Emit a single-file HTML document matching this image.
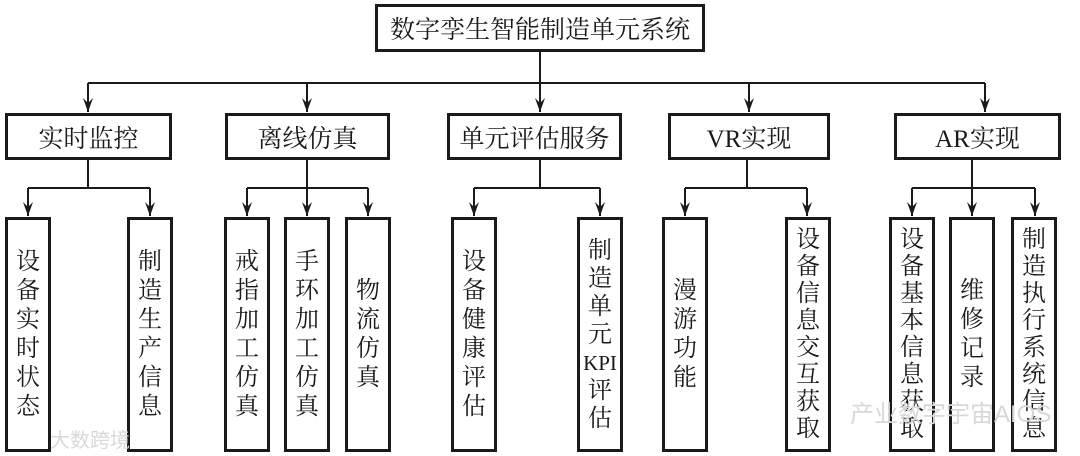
<!DOCTYPE html>
<html><head><meta charset="utf-8"><style>
body{margin:0;width:1080px;height:456px;background:#fff;position:relative;overflow:hidden;font-family:"Liberation Serif","Noto Serif CJK SC",serif;color:#1a1a1a}
.b{position:absolute;border:3px solid #1a1a1a;box-sizing:border-box;display:flex;align-items:center;justify-content:center;background:#fff}
.h{font-size:25px}
.v{flex-direction:column;font-size:24px;line-height:29px;text-align:center}
.v span{display:block}
svg{position:absolute;left:0;top:0}
.wm{position:absolute;color:#d8d8d8;font-family:"Liberation Sans","Noto Sans CJK SC",sans-serif;font-size:24px}
</style></head><body>
<svg width="1080" height="456" stroke="#1a1a1a" stroke-width="2" fill="#1a1a1a">
<defs><marker id="a" markerWidth="14" markerHeight="10" refX="14" refY="5" orient="auto" markerUnits="userSpaceOnUse"><path d="M0,0 L14,5 L0,10 L5,5 Z" stroke="none"/></marker></defs>
<line x1="540" y1="52" x2="540" y2="83"/>
<line x1="88" y1="83" x2="985" y2="83"/>
<g fill="none" marker-end="url(#a)">
<line x1="88" y1="83" x2="88" y2="112"/><line x1="307" y1="83" x2="307" y2="112"/><line x1="540" y1="83" x2="540" y2="112"/><line x1="749" y1="83" x2="749" y2="112"/><line x1="985" y1="83" x2="985" y2="112"/>
</g>
<line x1="88" y1="158" x2="88" y2="188"/><line x1="28" y1="188" x2="150" y2="188"/>
<line x1="307" y1="158" x2="307" y2="188"/><line x1="247" y1="188" x2="368" y2="188"/>
<line x1="540" y1="158" x2="540" y2="188"/><line x1="474" y1="188" x2="600" y2="188"/>
<line x1="747" y1="158" x2="747" y2="188"/><line x1="685" y1="188" x2="807" y2="188"/>
<line x1="972" y1="158" x2="972" y2="188"/><line x1="912" y1="188" x2="1035" y2="188"/>
<g fill="none" marker-end="url(#a)">
<line x1="28" y1="188" x2="28" y2="216"/><line x1="150" y1="188" x2="150" y2="216"/>
<line x1="247" y1="188" x2="247" y2="216"/><line x1="307" y1="188" x2="307" y2="216"/><line x1="368" y1="188" x2="368" y2="216"/>
<line x1="474" y1="188" x2="474" y2="216"/><line x1="600" y1="188" x2="600" y2="216"/>
<line x1="685" y1="188" x2="685" y2="216"/><line x1="807" y1="188" x2="807" y2="216"/>
<line x1="912" y1="188" x2="912" y2="216"/><line x1="972" y1="188" x2="972" y2="216"/><line x1="1035" y1="188" x2="1035" y2="216"/>
</g>
</svg>
<div class="b h" style="left:375px;top:4px;width:330px;height:48px;font-size:25px">数字孪生智能制造单元系统</div>
<div class="b h" style="left:5px;top:113px;width:167px;height:47px">实时监控</div>
<div class="b h" style="left:225px;top:113px;width:165px;height:47px">离线仿真</div>
<div class="b h" style="left:447px;top:113px;width:175px;height:47px">单元评估服务</div>
<div class="b h" style="left:668px;top:113px;width:162px;height:47px">VR实现</div>
<div class="b h" style="left:894px;top:113px;width:167px;height:47px">AR实现</div>

<div class="b v" style="left:5px;top:217px;width:46px;height:235px"><span>设</span><span>备</span><span>实</span><span>时</span><span>状</span><span>态</span></div>
<div class="b v" style="left:127px;top:217px;width:46px;height:235px"><span>制</span><span>造</span><span>生</span><span>产</span><span>信</span><span>息</span></div>
<div class="b v" style="left:224px;top:217px;width:46px;height:235px"><span>戒</span><span>指</span><span>加</span><span>工</span><span>仿</span><span>真</span></div>
<div class="b v" style="left:284px;top:217px;width:46px;height:235px"><span>手</span><span>环</span><span>加</span><span>工</span><span>仿</span><span>真</span></div>
<div class="b v" style="left:345px;top:217px;width:46px;height:235px"><span>物</span><span>流</span><span>仿</span><span>真</span></div>
<div class="b v" style="left:451px;top:217px;width:46px;height:235px"><span>设</span><span>备</span><span>健</span><span>康</span><span>评</span><span>估</span></div>
<div class="b v" style="left:577px;top:217px;width:46px;height:235px;line-height:28px"><span>制</span><span>造</span><span>单</span><span>元</span><span style="font-size:21px">KPI</span><span>评</span><span>估</span></div>
<div class="b v" style="left:662px;top:217px;width:46px;height:235px"><span>漫</span><span>游</span><span>功</span><span>能</span></div>
<div class="b v" style="left:785px;top:217px;width:46px;height:235px;line-height:27px"><span>设</span><span>备</span><span>信</span><span>息</span><span>交</span><span>互</span><span>获</span><span>取</span></div>
<div class="b v" style="left:889px;top:217px;width:46px;height:235px;line-height:27px"><span>设</span><span>备</span><span>基</span><span>本</span><span>信</span><span>息</span><span>获</span><span>取</span></div>
<div class="b v" style="left:949px;top:217px;width:46px;height:235px"><span>维</span><span>修</span><span>记</span><span>录</span></div>
<div class="b v" style="left:1011px;top:217px;width:46px;height:235px;line-height:27px"><span>制</span><span>造</span><span>执</span><span>行</span><span>系</span><span>统</span><span>信</span><span>息</span></div>

<div class="wm" style="left:850px;top:394px">产业数字宇宙AIOS</div>
<div class="wm" style="left:50px;top:424px;font-size:20px">大数跨境</div>
</body></html>
